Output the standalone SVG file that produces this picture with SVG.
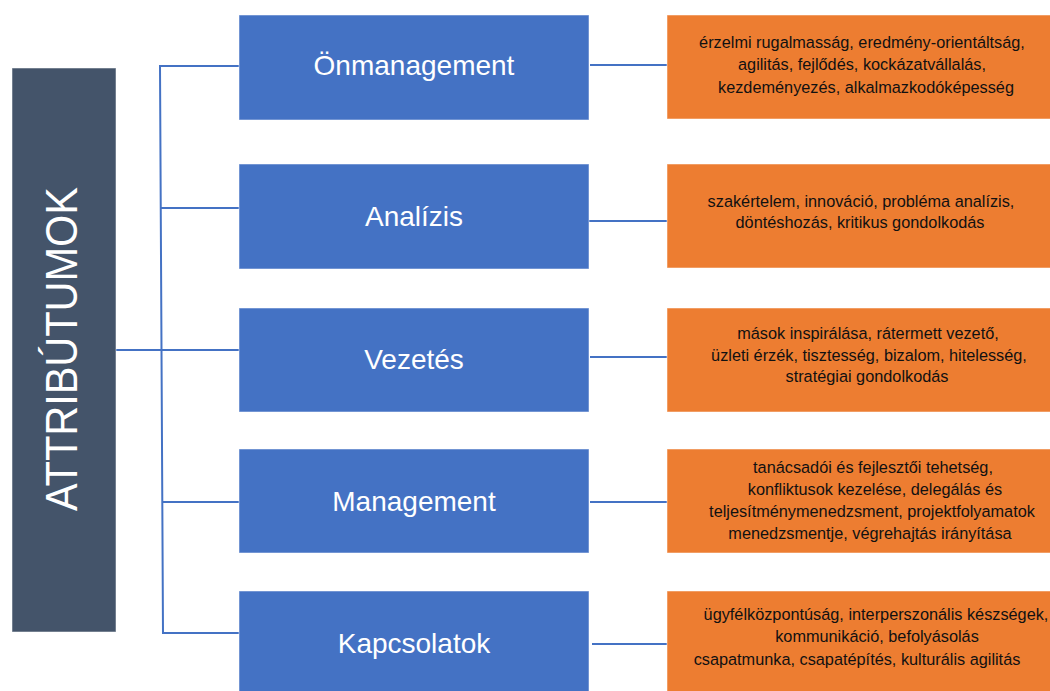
<svg xmlns="http://www.w3.org/2000/svg" width="1050" height="691" viewBox="0 0 1050 691">
<style>
.blue{fill:#4472C4;stroke:#ffffff;stroke-opacity:0.5;stroke-width:1}
.orange{fill:#ED7D31;stroke:#ffffff;stroke-opacity:0.5;stroke-width:1}
.lbl{font-family:"Liberation Sans",Arial,sans-serif;font-size:28px;fill:#ffffff;text-anchor:middle}
.desc{font-family:"Liberation Sans",Arial,sans-serif;font-size:16.3px;fill:#111111;text-anchor:middle}
.conn{stroke:#4472C4;stroke-width:2;fill:none}
</style>
<rect x="0" y="0" width="1050" height="691" fill="#ffffff"/>
<g id="connectors">
<path class="conn" d="M239,66 H160 L163,633 H239"/>
<path class="conn" d="M161,208 H239"/>
<path class="conn" d="M116,350 H239"/>
<path class="conn" d="M162.5,502 H239"/>
<path class="conn" d="M590,65 H668"/>
<path class="conn" d="M589,221 H668"/>
<path class="conn" d="M590,357 H668"/>
<path class="conn" d="M590,502 H668"/>
<path class="conn" d="M592,644 H670"/>
</g>
<g id="attributumok">
<rect x="12" y="68" width="104" height="564" fill="#44546A" stroke="#ffffff" stroke-opacity="0.5"/>
<text transform="translate(77,349) rotate(-90)" font-family="'Liberation Sans',Arial,sans-serif" font-size="44" fill="#ffffff" text-anchor="middle" textLength="324" lengthAdjust="spacingAndGlyphs">ATTRIBÚTUMOK</text>
</g>
<g id="onmanagement">
<rect class="blue" x="239" y="15" width="350" height="105"/>
<text class="lbl" x="414" y="75">Önmanagement</text>
</g>
<g id="analizis">
<rect class="blue" x="239" y="164" width="350" height="105"/>
<text class="lbl" x="414" y="226">Analízis</text>
</g>
<g id="vezetes">
<rect class="blue" x="239" y="308" width="350" height="104"/>
<text class="lbl" x="414" y="369">Vezetés</text>
</g>
<g id="management">
<rect class="blue" x="239" y="449" width="350" height="104"/>
<text class="lbl" x="414" y="511">Management</text>
</g>
<g id="kapcsolatok">
<rect class="blue" x="239" y="591" width="350" height="101"/>
<text class="lbl" x="414" y="653">Kapcsolatok</text>
</g>
<g id="desc-onmanagement">
<rect class="orange" x="667" y="15" width="384" height="104"/>
<text class="desc" x="862" y="48">érzelmi rugalmasság, eredmény-orientáltság,</text>
<text class="desc" x="862" y="70">agilitás, fejlődés, kockázatvállalás,</text>
<text class="desc" x="866" y="93">kezdeményezés, alkalmazkodóképesség</text>
</g>
<g id="desc-analizis">
<rect class="orange" x="667" y="164" width="384" height="104"/>
<text class="desc" x="861" y="207">szakértelem, innováció, probléma analízis,</text>
<text class="desc" x="860" y="228">döntéshozás, kritikus gondolkodás</text>
</g>
<g id="desc-vezetes">
<rect class="orange" x="667" y="308" width="384" height="104"/>
<text class="desc" x="868" y="339">mások inspirálása, rátermett vezető,</text>
<text class="desc" x="869" y="361">üzleti érzék, tisztesség, bizalom, hitelesség,</text>
<text class="desc" x="867" y="382">stratégiai gondolkodás</text>
</g>
<g id="desc-management">
<rect class="orange" x="667" y="449" width="384" height="104"/>
<text class="desc" x="873" y="473">tanácsadói és fejlesztői tehetség,</text>
<text class="desc" x="875" y="495">konfliktusok kezelése, delegálás és</text>
<text class="desc" x="872" y="517">teljesítménymenedzsment, projektfolyamatok</text>
<text class="desc" x="870" y="539">menedzsmentje, végrehajtás irányítása</text>
</g>
<g id="desc-kapcsolatok">
<rect class="orange" x="667" y="591" width="384" height="101"/>
<text class="desc" x="876" y="620">ügyfélközpontúság, interperszonális készségek,</text>
<text class="desc" x="877" y="642">kommunikáció, befolyásolás</text>
<text class="desc" x="857" y="665">csapatmunka, csapatépítés, kulturális agilitás</text>
</g>
</svg>
